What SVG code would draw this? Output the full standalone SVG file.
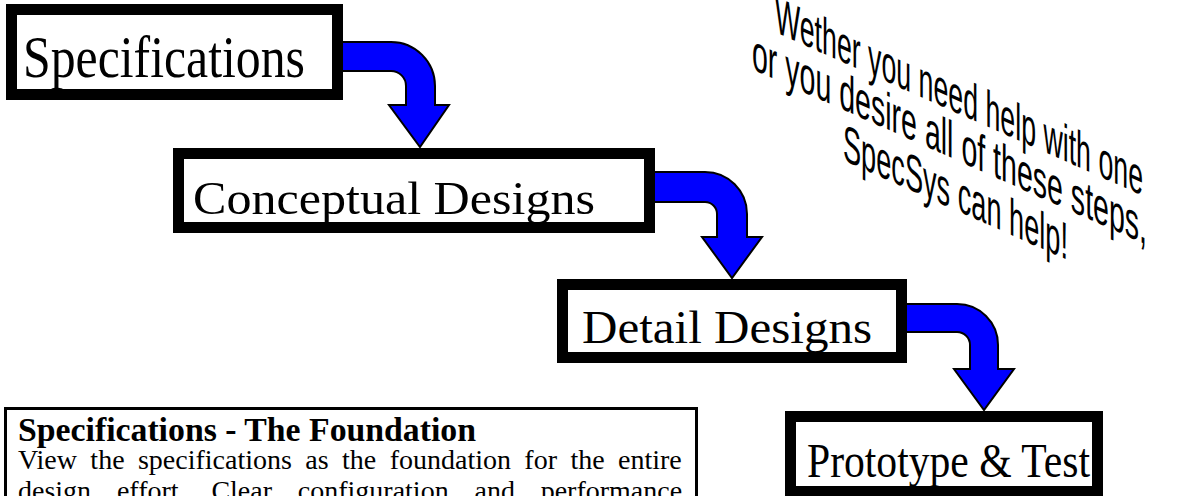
<svg xmlns="http://www.w3.org/2000/svg" width="1177" height="496" viewBox="0 0 1177 496">
<style>
.box{fill:#fff;stroke:#000;stroke-width:11}
.lbl{font-family:"Liberation Serif","Times New Roman",serif;fill:#000}
.arr{fill:#0000ff;stroke:#000;stroke-width:2;stroke-linejoin:miter}
.slant{font-family:"Liberation Sans",Arial,sans-serif;font-size:52px;fill:#000}
.para{font-family:"Liberation Serif","Times New Roman",serif;fill:#000}
</style>
<rect width="1177" height="496" fill="#fff"/>
<g id="connectors">
<path class="arr" d="M338,42 H391 A44,44 0 0 1 435,86 V105 H449 L420,147 L389,105 H406 V86 A15,15 0 0 0 391,71 H338 Z"/>
<path class="arr" d="M650,172 H705 A42,42 0 0 1 747,214 V237 H762 L732,278 L702,237 H717 V214 A12,12 0 0 0 705,202 H650 Z"/>
<path class="arr" d="M902,304 H957 A41,41 0 0 1 998,345 V369 H1014 L984,410 L954,369 H970 V345 A13,13 0 0 0 957,332 H902 Z"/>
</g>
<g id="node-specifications">
<rect class="box" x="11.5" y="9.5" width="326" height="85"/>
<text class="lbl" x="23" y="77" font-size="60" textLength="282" lengthAdjust="spacingAndGlyphs">Specifications</text>
</g>
<g id="node-conceptual">
<rect class="box" x="178.5" y="153.5" width="471" height="74"/>
<text class="lbl" x="193" y="214" font-size="47" textLength="402" lengthAdjust="spacingAndGlyphs">Conceptual Designs</text>
</g>
<g id="node-detail">
<rect class="box" x="562.5" y="284.5" width="339" height="73"/>
<text class="lbl" x="582" y="343" font-size="47" textLength="290" lengthAdjust="spacingAndGlyphs">Detail Designs</text>
</g>
<g id="node-prototype">
<rect class="box" x="790.5" y="416.5" width="307" height="75"/>
<text class="lbl" x="807" y="477" font-size="48" textLength="283" lengthAdjust="spacingAndGlyphs">Prototype &amp; Test</text>
</g>
<g id="slogan">
<text class="slant" transform="matrix(1,0.445,0,1,775,32)" textLength="368" lengthAdjust="spacingAndGlyphs">Wether you need help with one</text>
<text class="slant" transform="matrix(1,0.445,0,1,752,69)" textLength="395" lengthAdjust="spacingAndGlyphs">or you desire all of these steps,</text>
<text class="slant" transform="matrix(1,0.445,0,1,843,160)" textLength="225" lengthAdjust="spacingAndGlyphs">SpecSys can help!</text>
</g>
<g id="note">
<rect x="5.5" y="408.5" width="691" height="100" fill="#fff" stroke="#000" stroke-width="3"/>
<text class="para" x="18" y="441" font-size="33" font-weight="bold" textLength="458" lengthAdjust="spacingAndGlyphs">Specifications - The Foundation</text>
<text class="para" x="18" y="469" font-size="28" word-spacing="6.4">View the specifications as the foundation for the entire</text>
<text class="para" x="18" y="500" font-size="28" word-spacing="18.8">design effort. Clear configuration and performance</text>
</g>
</svg>
